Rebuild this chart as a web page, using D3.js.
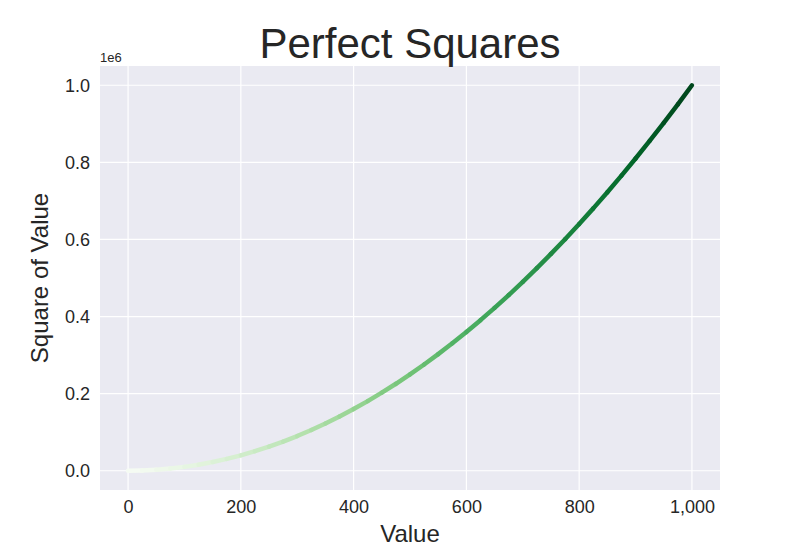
<!DOCTYPE html>
<html>
<head>
<meta charset="utf-8">
<script src="https://cdn.jsdelivr.net/npm/d3@7.9.0/dist/d3.min.js"></script>
<style>
  body { margin: 0; background: #fff; }
  svg { font-family: "Liberation Sans", Arial, sans-serif; }
</style>
</head>
<body>
<svg id="chart" width="800" height="550"></svg>
<script>
const xValues = [0, 25, 50, 75, 100, 125, 150, 175, 200, 225, 250, 275, 300, 325, 350, 375, 400,
  425, 450, 475, 500, 525, 550, 575, 600, 625, 650, 675, 700, 725, 750, 775, 800, 825, 850,
  875, 900, 925, 950, 975, 1000];
const yValues = [0, 625, 2500, 5625, 10000, 15625, 22500, 30625, 40000, 50625, 62500, 75625,
  90000, 105625, 122500, 140625, 160000, 180625, 202500, 225625, 250000, 275625, 302500,
  330625, 360000, 390625, 422500, 455625, 490000, 525625, 562500, 600625, 640000, 680625,
  722500, 765625, 810000, 855625, 902500, 950625, 1000000];
const xTicks = [0, 200, 400, 600, 800, 1000];
const yTicks = [0, 200000, 400000, 600000, 800000, 1000000];

const svg = d3.select("#chart");
const plotLeft = 100, plotRight = 720, plotTop = 66, plotBottom = 490;

const x = d3.scaleLinear().domain([-49.75, 1049.75]).range([plotLeft, plotRight]);
const y = d3.scaleLinear().domain([-50000, 1050000]).range([plotBottom, plotTop]);
const color = d3.scaleSequential(d3.interpolateGreens).domain([0, 1000]);

// plot background
svg.append("rect").attr("x", plotLeft).attr("y", plotTop)
  .attr("width", plotRight - plotLeft).attr("height", plotBottom - plotTop).attr("fill", "#eaeaf2");

// grid
svg.append("g").selectAll("line").data(xTicks).join("line")
  .attr("x1", d => x(d)).attr("x2", d => x(d)).attr("y1", plotTop).attr("y2", plotBottom)
  .attr("stroke", "#fff").attr("stroke-width", 1.2);
svg.append("g").selectAll("line").data(yTicks).join("line")
  .attr("y1", d => y(d)).attr("y2", d => y(d)).attr("x1", plotLeft).attr("x2", plotRight)
  .attr("stroke", "#fff").attr("stroke-width", 1.2);

// axes
const xAxis = svg.append("g").attr("transform", `translate(0,${plotBottom})`)
  .call(d3.axisBottom(x).tickValues(xTicks).tickSize(0).tickPadding(10));
const yAxis = svg.append("g").attr("transform", `translate(${plotLeft},0)`)
  .call(d3.axisLeft(y).tickValues(yTicks).tickSize(0).tickPadding(10)
    .tickFormat(d => (d / 1e6).toFixed(1)));
[xAxis, yAxis].forEach(a => {
  a.select(".domain").remove();
  a.selectAll("text").attr("font-size", 18).attr("fill", "#262626")
    .attr("font-family", "Liberation Sans, Arial, sans-serif");
});

// curve, coloured segment by segment
const pts = xValues.map((v, i) => [v, yValues[i]]);
svg.append("g").selectAll("line").data(pts.slice(1)).join("line")
  .attr("x1", (d, i) => x(pts[i][0])).attr("y1", (d, i) => y(pts[i][1]))
  .attr("x2", d => x(d[0])).attr("y2", d => y(d[1]))
  .attr("stroke", (d, i) => color((pts[i][0] + d[0]) / 2))
  .attr("stroke-width", 4.5).attr("stroke-linecap", "round");

// texts
svg.append("text").attr("x", 410).attr("y", 58).attr("text-anchor", "middle")
  .attr("font-size", 42).attr("fill", "#262626").text("Perfect Squares");
svg.append("text").attr("x", 410).attr("y", 542).attr("text-anchor", "middle")
  .attr("font-size", 24).attr("fill", "#262626").text("Value");
svg.append("text").attr("transform", "translate(48,278) rotate(-90)")
  .attr("text-anchor", "middle").attr("font-size", 24).attr("fill", "#262626")
  .text("Square of Value");
svg.append("text").attr("x", 100).attr("y", 62).attr("font-size", 13)
  .attr("fill", "#262626").text("1e6");
</script>
</body>
</html>
